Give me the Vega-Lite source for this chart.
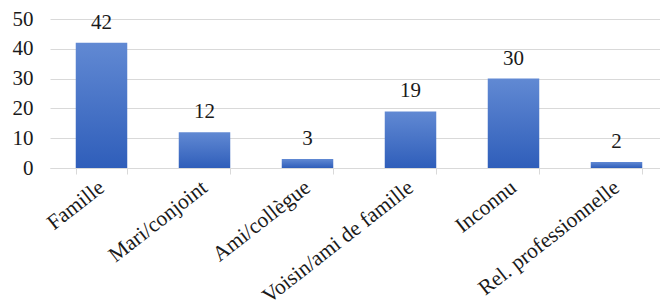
{
  "$schema": "https://vega.github.io/schema/vega-lite/v6.json",
  "autosize": "none",
  "width": 610,
  "height": 149,
  "padding": {"left": 50, "top": 19, "right": 0, "bottom": 140},
  "background": "white",
  "config": {
    "view": {"stroke": null},
    "font": "Liberation Serif"
  },
  "data": {
    "values": [
      {"cat": "Famille", "n": 42},
      {"cat": "Mari/conjoint", "n": 12},
      {"cat": "Ami/collègue", "n": 3},
      {"cat": "Voisin/ami de famille", "n": 19},
      {"cat": "Inconnu", "n": 30},
      {"cat": "Rel. professionnelle", "n": 2}
    ]
  },
  "encoding": {
    "x": {
      "field": "cat", "type": "nominal", "sort": null,
      "scale": {"range": [0, 618], "paddingInner": 0.5, "paddingOuter": 0.25},
      "axis": {
        "title": null, "labelAngle": -38, "labelAlign": "right", "labelBaseline": "middle",
        "labelFont": "Liberation Serif", "labelFontSize": 21.5, "labelColor": "#1a1a1a",
        "labelPadding": 11, "domainColor": "#d9d9d9", "tickColor": "#d9d9d9",
        "tickSize": 6, "tickBand": "extent", "grid": false, "labelOverlap": false, "labelLimit": 400
      }
    },
    "y": {
      "field": "n", "type": "quantitative",
      "scale": {"domain": [0, 50]},
      "axis": {
        "title": null, "values": [0, 10, 20, 30, 40, 50], "domain": false, "ticks": false,
        "labelFont": "Liberation Serif", "labelFontSize": 21, "labelColor": "#1a1a1a",
        "labelPadding": 17, "gridColor": "#d9d9d9", "gridWidth": 1.2
      }
    }
  },
  "layer": [
    {
      "mark": {
        "type": "bar",
        "fill": {
          "gradient": "linear", "x1": 0, "y1": 0, "x2": 0, "y2": 1,
          "stops": [{"offset": 0, "color": "#6189d3"}, {"offset": 1, "color": "#2f5eba"}]
        }
      }
    },
    {
      "mark": {"type": "text", "dy": -14, "baseline": "alphabetic", "font": "Liberation Serif", "fontSize": 21, "color": "#1a1a1a"},
      "encoding": {"text": {"field": "n", "type": "quantitative"}}
    }
  ]
}
